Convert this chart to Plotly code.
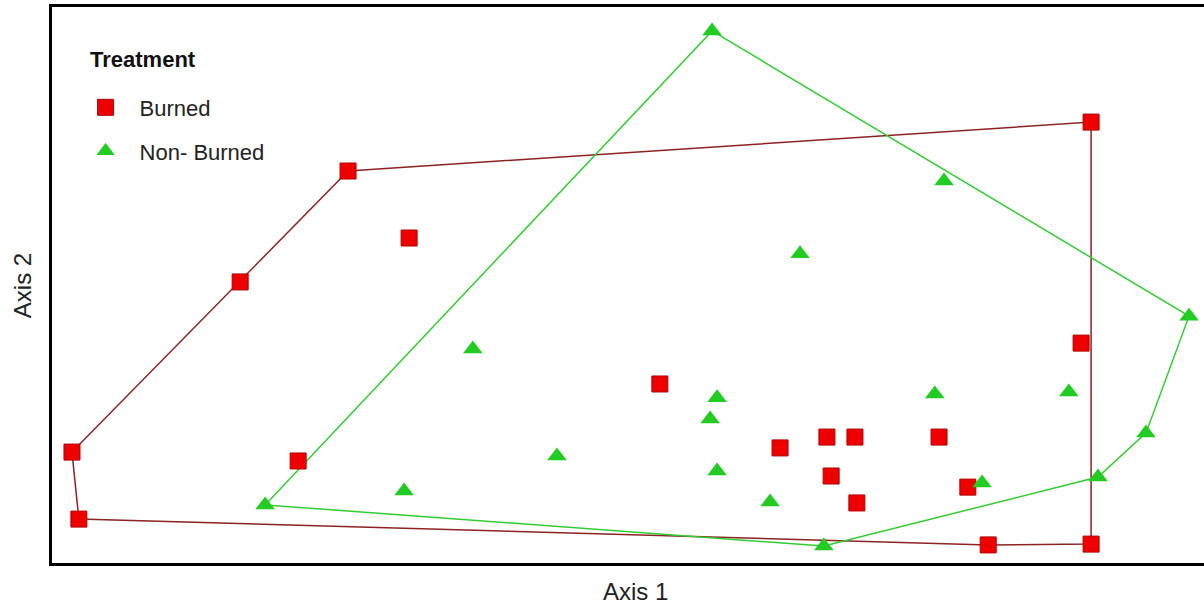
import plotly.graph_objects as go

# Ordination scores (Axis 1, Axis 2) for each plot, grouped by treatment
burned_x = [1.206, -0.729, -0.570, -1.010, -1.448, -1.430, -0.859, 1.180, 0.083,
            0.396, 0.518, 0.591, 0.810, 0.529, 0.596, 0.885, 0.938, 1.206]
burned_y = [0.586, 0.410, 0.169, 0.011, -0.601, -0.842, -0.633, -0.209, -0.356,
            -0.586, -0.547, -0.547, -0.547, -0.687, -0.784, -0.727, -0.935, -0.932]

nonburned_x = [0.219, 0.823, 0.448, 1.461, -0.404, 0.232, 0.799, 1.148, 0.214,
               1.349, -0.185, 0.232, -0.583, 0.922, 0.370, 1.224, -0.945, 0.510]
nonburned_y = [0.914, 0.374, 0.112, -0.112, -0.230, -0.406, -0.392, -0.385, -0.482,
               -0.532, -0.615, -0.669, -0.741, -0.712, -0.781, -0.691, -0.791, -0.939]

group_names = ["Burned", "Non- Burned"]
legend_title = "Treatment"
axis_titles = ["Axis 1", "Axis 2"]

FONT = "Liberation Sans, Arial, sans-serif"


def convex_hull(xs, ys):
    """Monotone-chain convex hull, returned as a closed ring."""
    pts = sorted(set(zip(xs, ys)))

    def cross(o, a, b):
        return (a[0] - o[0]) * (b[1] - o[1]) - (a[1] - o[1]) * (b[0] - o[0])

    lower, upper = [], []
    for p in pts:
        while len(lower) >= 2 and cross(lower[-2], lower[-1], p) <= 0:
            lower.pop()
        lower.append(p)
    for p in reversed(pts):
        while len(upper) >= 2 and cross(upper[-2], upper[-1], p) <= 0:
            upper.pop()
        upper.append(p)
    ring = lower[:-1] + upper[:-1]
    ring.append(ring[0])
    return [p[0] for p in ring], [p[1] for p in ring]


fig = go.Figure()

# Group envelopes
hx, hy = convex_hull(burned_x, burned_y)
fig.add_trace(go.Scatter(x=hx, y=hy, mode="lines", showlegend=False,
                         line=dict(color="#8b2323", width=1.5), hoverinfo="skip"))
hx, hy = convex_hull(nonburned_x, nonburned_y)
fig.add_trace(go.Scatter(x=hx, y=hy, mode="lines", showlegend=False,
                         line=dict(color="#33cc33", width=1.5), hoverinfo="skip"))

# Plot scores
fig.add_trace(go.Scatter(
    x=burned_x, y=burned_y, mode="markers", name=group_names[0], legendgroup="b",
    marker=dict(symbol="square", size=16, color="#ee0000",
                line=dict(color="#b00000", width=1)),
))
fig.add_trace(go.Scatter(
    x=nonburned_x, y=nonburned_y, mode="markers", name=group_names[1], legendgroup="n",
    marker=dict(symbol="triangle-up", size=17, color="#22cc22",
                line=dict(color="#22cc22", width=0)),
))

# Legend heading
fig.add_annotation(
    text="<b>%s</b>" % legend_title, xref="paper", yref="paper",
    x=0.031, y=0.905, xanchor="left", yanchor="middle", showarrow=False,
    font=dict(size=22, family=FONT, color="#111111"),
)

# Axis titles
fig.add_annotation(
    text=axis_titles[0], xref="paper", yref="paper",
    x=0.5065, y=-0.052, xanchor="center", yanchor="middle", showarrow=False,
    font=dict(size=24, family=FONT, color="#222222"),
)
fig.add_annotation(
    text=axis_titles[1], xref="paper", yref="paper", textangle=-90,
    x=-0.026, y=0.498, xanchor="center", yanchor="middle", showarrow=False,
    font=dict(size=24, family=FONT, color="#222222"),
)

fig.update_layout(
    width=1204, height=604,
    margin=dict(l=52, r=0, t=7, b=41),
    paper_bgcolor="white", plot_bgcolor="white",
    font=dict(family=FONT, color="#222222"),
    showlegend=True,
    legend=dict(
        font=dict(size=22, family=FONT, color="#222222"),
        x=0.017, y=0.857, xanchor="left", yanchor="top",
        itemwidth=58,
        bgcolor="rgba(0,0,0,0)", tracegroupgap=12,
    ),
    xaxis=dict(
        range=[-1.5, 1.5], showgrid=False, zeroline=False, showticklabels=False,
        ticks="", showline=True, linecolor="black", linewidth=3, mirror=True,
    ),
    yaxis=dict(
        range=[-1.0, 1.0], showgrid=False, zeroline=False, showticklabels=False,
        ticks="", showline=True, linecolor="black", linewidth=3, mirror=False,
    ),
)

fig.write_html("out.html")
